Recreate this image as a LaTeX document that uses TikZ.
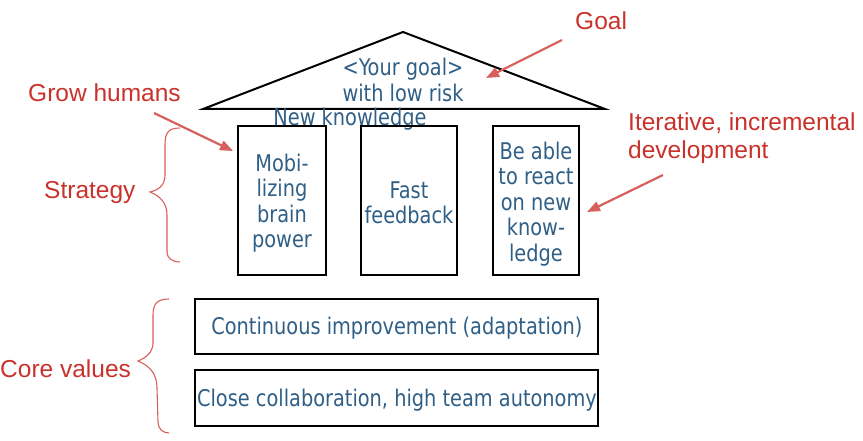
\documentclass[tikz,border=0pt]{standalone}
\usepackage{fontspec}
\setmainfont[FakeStretch=0.935]{DejaVu Sans Condensed}
\newfontfamily\redfont{Liberation Sans}
\usetikzlibrary{arrows.meta}
\definecolor{bluetext}{HTML}{2F5F86}
\definecolor{redtext}{HTML}{C9322B}
\definecolor{redarrow}{HTML}{D6605C}
\begin{document}
\begin{tikzpicture}[x=1pt,y=-1pt,
  bluet/.style={text=bluetext,font=\fontsize{23}{25.5}\selectfont,align=center,inner sep=0pt},
  redt/.style={text=redtext,font=\redfont\fontsize{24.5}{28}\selectfont,align=left,inner sep=0pt},
  pillar/.style={draw=black,line width=2pt,minimum height=149pt,inner sep=0pt},
  bar/.style={draw=black,line width=2pt,minimum width=403pt,inner sep=0pt},
  redarr/.style={draw=redarrow,line width=2.2pt,-{Triangle[length=13pt,width=10pt]}},
  brace/.style={draw=redarrow,line width=1.1pt}]
\useasboundingbox (0,0) rectangle (863,441);
% roof
\coordinate (apex) at (403,32);
\coordinate (bl) at (203,109);
\coordinate (br) at (605,109);
\draw[line width=2pt,line join=miter] (bl) -- (apex) -- (br) -- cycle;
\node[bluet] (goaltext) at (403,80) {<Your goal>\\with low risk};
\node[bluet,anchor=center] (newk) at (350,119) {New knowledge};
% pillars
\node[pillar,minimum width=88pt] (p1) at (282,200.5) {};
\node[pillar,minimum width=96pt] (p2) at (409,200.5) {};
\node[pillar,minimum width=86pt] (p3) at (536,200.5) {};
\node[bluet] (t1) at (282,203) {Mobi-\\lizing\\brain\\power};
\node[bluet] (t2) at (409,203) {Fast\\feedback};
\node[bluet] (t3) at (536,204) {Be able\\to react\\on new\\know-\\ledge};
% bars
\node[bar,minimum height=55pt] (b1) at (396.5,326.5) {};
\node[bar,minimum height=56pt] (b2) at (396.5,398) {};
\node[bluet] (bt1) at (397,328) {Continuous improvement (adaptation)};
\node[bluet] (bt2) at (397,400) {Close collaboration, high team autonomy};
% red labels
\node[redt,anchor=west] (goal) at (575,21) {Goal};
\node[redt,anchor=west] (grow) at (28,93) {Grow humans};
\node[redt,anchor=west] (strat) at (44,192) {Strategy};
\node[redt,anchor=west] (iter) at (628,138) {Iterative, incremental\\development};
\node[redt,anchor=west] (core) at (0,369) {Core values};
% arrows
\coordinate (ga) at (562,40);
\coordinate (gb) at (486,78);
\draw[redarr] (ga) -- (gb);
\coordinate (ha) at (154,113);
\coordinate (hb) at (233,151);
\draw[redarr] (ha) -- (hb);
\coordinate (ia) at (663,175);
\coordinate (ib) at (587,212);
\draw[redarr] (ia) -- (ib);
% braces
\draw[brace] (180,128) .. controls (168,128) and (165,133) .. (165,145)
  -- (165,175) .. controls (165,186) and (158,190) .. (150,192)
  .. controls (160,196) and (167,203) .. (167,215)
  -- (167,252) .. controls (167,258) and (172,262) .. (180,262);
\draw[brace] (169,299) .. controls (157,299) and (153,304) .. (153,315)
  -- (153,343) .. controls (153,352) and (146,358) .. (138,361)
  .. controls (150,366) and (157,374) .. (157,388)
  -- (158,422) .. controls (158,429) and (163,433) .. (169,433);
\end{tikzpicture}
\end{document}
